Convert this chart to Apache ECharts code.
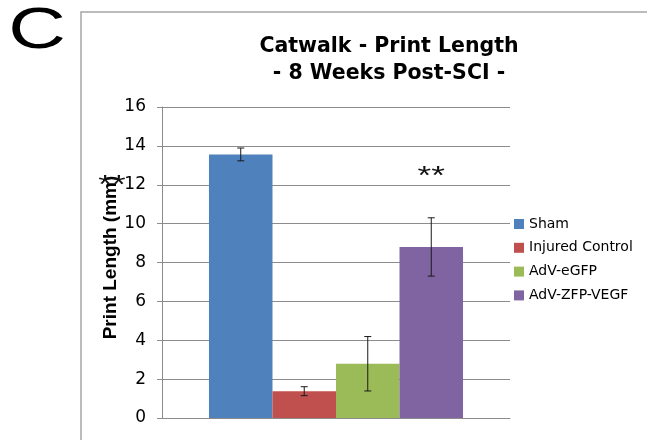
<!DOCTYPE html>
<html>
<head>
<meta charset="utf-8">
<script src="https://cdn.jsdelivr.net/npm/echarts@6/dist/echarts.min.js"></script>
<style>
html,body{margin:0;padding:0;background:#fff;}
#chart{width:647px;height:440px;}
</style>
</head>
<body>
<div id="chart"></div>
<script>
// ---- data ----
const categories = ['8 Weeks Post-SCI'];
const groups = ['Sham', 'Injured Control', 'AdV-eGFP', 'AdV-ZFP-VEGF'];
const means = [13.56, 1.38, 2.79, 8.8];
const errors = [0.33, 0.23, 1.4, 1.5];
const sigLevels = [null, null, null, 12.6];
const sigTexts = ['', '', '', '**'];
const colors = ['#4F81BD', '#C0504D', '#9BBB59', '#8064A2'];
const yMin = 0, yMax = 16, yStep = 2;

const catGap = 0.27;
const axisGray = '#8c8c8c';

const chart = echarts.init(document.getElementById('chart'), null, {renderer: 'canvas'});

const barSeries = groups.map((g, i) => ({
  name: g,
  type: 'bar',
  data: [means[i]],
  itemStyle: {color: colors[i]},
  barGap: '0%',
  barCategoryGap: (catGap * 100) + '%',
  z: 2
}));

const errData = groups.map((g, i) => [0, means[i], errors[i], i, sigLevels[i] == null ? '-' : sigLevels[i]]);

const errSeries = {
  type: 'custom',
  name: 'error',
  data: errData,
  clip: false,
  z: 5,
  silent: true,
  renderItem: function (params, api) {
    const cat = api.value(0);
    const mean = api.value(1);
    const err = api.value(2);
    const idx = api.value(3);
    const sig = api.value(4);
    const center = api.coord([cat, mean]);
    const band = api.size([1, 0])[0];
    const total = band * (1 - catGap);
    const bw = total / groups.length;
    const x = center[0] - total / 2 + (idx + 0.5) * bw;
    const top = api.coord([cat, mean + err])[1];
    const bot = api.coord([cat, mean - err])[1];
    const cap = 3.5;
    const st = {stroke: '#1a1a1a', lineWidth: 1};
    const children = [
      {type: 'line', shape: {x1: x, y1: top, x2: x, y2: bot}, style: st},
      {type: 'line', shape: {x1: x - cap, y1: top, x2: x + cap, y2: top}, style: st},
      {type: 'line', shape: {x1: x - cap, y1: bot, x2: x + cap, y2: bot}, style: st}
    ];
    if (!isNaN(sig) && sigTexts[idx]) {
      const sy = api.coord([cat, sig])[1];
      children.push({
        type: 'text', x: x, y: sy + 4, scaleX: 1.35, scaleY: 1,
        style: {text: sigTexts[idx], font: '26px "Liberation Sans"', align: 'center', verticalAlign: 'middle', fill: '#111'}
      });
    }
    return {type: 'group', children: children};
  }
};

const option = {
  animation: false,
  backgroundColor: '#fff',
  title: {
    text: 'Catwalk - Print Length\n- 8 Weeks Post-SCI -',
    left: 384,
    top: 28,
    textAlign: 'center',
    textStyle: {fontFamily: 'DejaVu Sans', fontWeight: 'bold', fontSize: 20.5, lineHeight: 27, color: '#000'}
  },
  legend: {
    orient: 'vertical',
    left: 514,
    top: 216,
    padding: 0,
    data: groups,
    icon: 'rect',
    itemWidth: 10,
    itemHeight: 10,
    itemGap: 7.8,
    textStyle: {fontFamily: 'DejaVu Sans', fontSize: 14, color: '#000', lineHeight: 16}
  },
  grid: {left: 162, right: 137, top: 107, bottom: 22, containLabel: false},
  xAxis: {
    type: 'category',
    data: categories,
    axisLine: {show: true, lineStyle: {color: axisGray, width: 1}},
    axisTick: {show: false},
    axisLabel: {show: false},
    splitLine: {show: false}
  },
  yAxis: {
    type: 'value',
    min: yMin, max: yMax, interval: yStep,
    name: 'Print Length (mm)',
    nameLocation: 'middle',
    nameGap: 42,
    nameMoveOverlap: false,
    nameTextStyle: {fontFamily: 'Liberation Sans', fontWeight: 'bold', fontSize: 19, color: '#000', padding: [0, 0, 0, 10]},
    axisLine: {show: true, lineStyle: {color: axisGray, width: 1}},
    axisTick: {show: true, length: 5, lineStyle: {color: axisGray}},
    axisLabel: {margin: 16, fontFamily: 'DejaVu Sans', fontSize: 17, color: '#000'},
    splitLine: {show: true, lineStyle: {color: axisGray, width: 1}}
  },
  graphic: [
    {type: 'rect', silent: true, z: -10, shape: {x: 81, y: 12, width: 800, height: 600},
     style: {fill: null, stroke: '#a6a6a6', lineWidth: 1.5}},
    {type: 'text', silent: true, x: 37, y: 32, scaleX: 1.4, scaleY: 1,
     style: {text: 'C', font: '57px "Liberation Sans"', align: 'center', verticalAlign: 'middle', fill: '#000'}},
    {type: 'text', silent: true, x: 112, y: 186, scaleX: 1.35, scaleY: 1, z: 100,
     style: {text: '**', font: '26px "Liberation Sans"', align: 'center', verticalAlign: 'middle', fill: '#111'}}
  ],
  series: barSeries.concat([errSeries])
};

chart.setOption(option);
</script>
</body>
</html>
